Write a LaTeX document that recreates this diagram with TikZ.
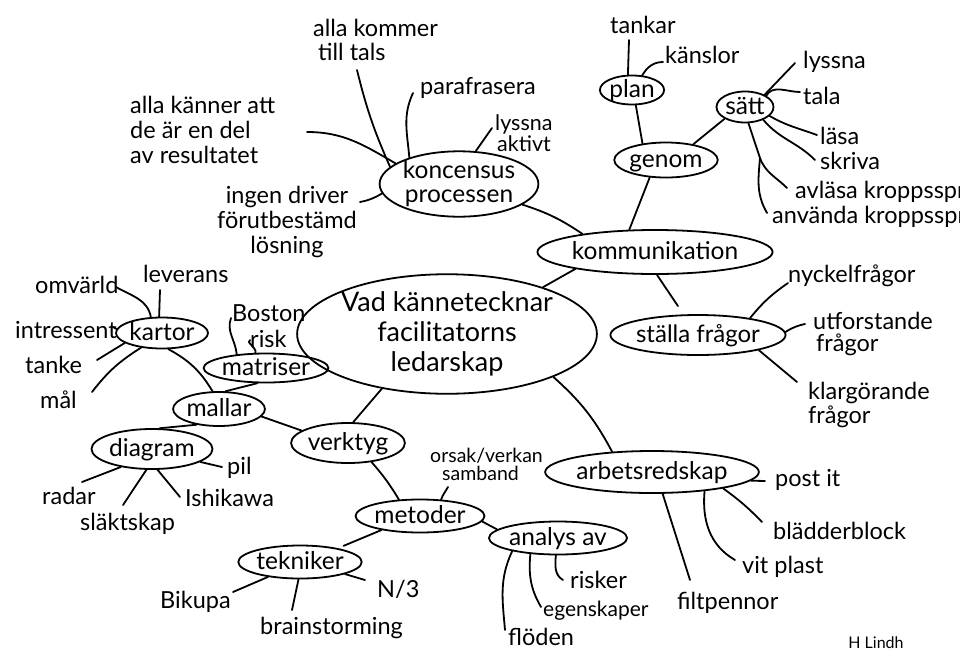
\documentclass[tikz,border=0pt]{standalone}
\usepackage{fontspec}
\setmainfont{Lato}
\usetikzlibrary{shapes.geometric}
\begin{document}
\begin{tikzpicture}[x=1pt,y=1pt,
  bub/.style={ellipse,draw,line width=1.8pt,inner sep=0pt,font=\fontsize{24.5}{26}\selectfont,align=center},
  one/.style={bub,text height=17pt,text depth=3pt},
  lf/.style={inner sep=0pt,anchor=west,font=\fontsize{23.5}{25}\selectfont,align=left},
  ln/.style={line width=1.8pt,line cap=round}]
\useasboundingbox (0,0) rectangle (960,-651);
\fill[white] (0,0) rectangle (960,-651);
% ellipses
\node[bub,minimum width=249pt,minimum height=108pt,font=\fontsize{27}{30}\selectfont] (main) at (447,-334) {Vad kännetecknar\\facilitatorns\\ledarskap};
\node[bub,minimum width=148pt,minimum height=62pt,font=\fontsize{24.5}{24}\selectfont] (kons) at (459,-184) {koncensus\\processen};
\node[one,minimum width=190pt,minimum height=44pt] (komm) at (655,-252) {kommunikation};
\node[one,minimum width=95pt,minimum height=35pt] (genom) at (666,-160) {genom};
\node[one,minimum width=62pt,minimum height=29pt] (plan) at (632,-90) {plan};
\node[one,minimum width=57pt,minimum height=31pt] (satt) at (745,-107) {sätt};
\node[one,minimum width=143pt,minimum height=40pt,font=\fontsize{24}{26}\selectfont] (stal) at (698,-335) {ställa frågor};
\node[one,minimum width=170pt,minimum height=42pt] (arb) at (652,-472) {arbetsredskap};
\node[one,minimum width=127pt,minimum height=33pt] (anal) at (558,-538) {analys av};
\node[one,minimum width=110pt,minimum height=33pt] (metod) at (420,-516) {metoder};
\node[one,minimum width=120pt,minimum height=33pt] (tekn) at (300,-562) {tekniker};
\node[one,minimum width=97pt,minimum height=40pt] (verk) at (348,-443) {verktyg};
\node[one,minimum width=88pt,minimum height=34pt] (mallar) at (219,-409) {mallar};
\node[one,minimum width=103pt,minimum height=40pt] (diag) at (152,-449) {diagram};
\node[one,minimum width=84pt,minimum height=31pt] (kart) at (162,-333) {kartor};
\node[one,minimum width=104pt,minimum height=29pt] (matr) at (266,-368) {matriser};
% leaf texts
\node[lf,font=\fontsize{23.5}{24}\selectfont] (kom1) at (313,-40) {alla kommer\\\hspace*{5pt}till tals};
\node[lf] (kanner) at (130,-130) {alla känner att\\de är en del\\av resultatet};
\node[lf] (para) at (420,-88) {parafrasera};
\node[lf,font=\fontsize{21.5}{16}\selectfont] (lyssa) at (495,-133) {lyssna\\\hspace*{2pt}aktivt};
\node[lf,anchor=center,align=center] (ingen) at (287,-222) {ingen driver\\förutbestämd\\lösning};
\node[lf] (tankar) at (610,-25) {tankar};
\node[lf] (kanslor) at (665,-55) {känslor};
\node[lf] (lyssna) at (803,-62) {lyssna};
\node[lf] (tala) at (803,-96) {tala};
\node[lf] (lasa) at (820,-136) {läsa};
\node[lf] (skriva) at (820,-161) {skriva};
\node[lf] (avlasa) at (795,-192) {avläsa kroppsspråk};
\node[lf] (anvanda) at (772,-217) {använda kroppsspråk};
\node[lf] (nyckel) at (788,-276) {nyckelfrågor};
\node[lf,font=\fontsize{23.5}{22}\selectfont] (utf) at (813,-334) {utforstande\\\hspace*{3pt}frågor};
\node[lf,font=\fontsize{23.5}{24}\selectfont] (klar) at (808,-405) {klargörande\\frågor};
\node[lf] (postit) at (775,-480) {post it};
\node[lf] (bladd) at (773,-531) {blädderblock};
\node[lf] (vit) at (742,-567) {vit plast};
\node[lf] (filt) at (677,-603) {filtpennor};
\node[lf] (risker) at (570,-580) {risker};
\node[lf,font=\fontsize{21}{22}\selectfont] (egen) at (543,-611) {egenskaper};
\node[lf] (floden) at (508,-637) {flöden};
\node[lf,font=\fontsize{19.5}{18}\selectfont] (orsak) at (430,-464) {orsak/verkan\\\hspace*{12pt}samband};
\node[lf] (omv) at (35,-285) {omvärld};
\node[lf] (lev) at (143,-274) {leverans};
\node[lf] (intr) at (15,-330) {intressent};
\node[lf] (tanke) at (25,-365) {tanke};
\node[lf] (mal) at (40,-400) {mål};
\node[lf] (boston) at (232,-313) {Boston};
\node[lf] (risk) at (250,-339) {risk};
\node[lf] (pil) at (227,-468) {pil};
\node[lf] (radar) at (42,-496) {radar};
\node[lf] (slakt) at (80,-524) {släktskap};
\node[lf] (ishi) at (185,-498) {Ishikawa};
\node[lf] (bikupa) at (160,-602) {Bikupa};
\node[lf] (brain) at (260,-628) {brainstorming};
\node[lf] (n3) at (377,-589) {N/3};
\node[lf,anchor=center,font=\fontsize{16}{16}\selectfont] (lindh) at (876,-643) {H Lindh};
% free ends
\coordinate (kom1E) at (357,-70);
\coordinate (kannerE) at (307,-132);
\coordinate (paraE) at (413,-93);
\coordinate (lyssaE) at (492,-128);
\coordinate (ingenE) at (360,-202);
\coordinate (tankarE) at (629,-40);
\coordinate (kanslorE) at (663,-62);
\coordinate (lyssnaE) at (795,-63);
\coordinate (talaE) at (800,-92);
\coordinate (lasaE) at (817,-135);
\coordinate (skrivaE) at (815,-160);
\coordinate (branch) at (760,-158);
\coordinate (avlasaE) at (787,-188);
\coordinate (anvandaE) at (767,-213);
\coordinate (nyckelE) at (788,-283);
\coordinate (utfE) at (805,-324);
\coordinate (klarE) at (797,-382);
\coordinate (postitE) at (765,-481);
\coordinate (bladdE) at (762,-522);
\coordinate (vitE) at (735,-560);
\coordinate (filtE) at (690,-580);
\coordinate (riskerE) at (563,-580);
\coordinate (egenE) at (541,-607);
\coordinate (flodenE) at (505,-630);
\coordinate (orsakE) at (448,-487);
\coordinate (omvE) at (116,-287);
\coordinate (levE) at (160,-290);
\coordinate (intrE) at (113,-327);
\coordinate (tankeE) at (97,-360);
\coordinate (malE) at (92,-392);
\coordinate (bostonE) at (231,-318);
\coordinate (riskE) at (250,-340);
\coordinate (pilE) at (222,-467);
\coordinate (radarE) at (82,-482);
\coordinate (slaktE) at (123,-505);
\coordinate (ishiE) at (180,-497);
\coordinate (bikupaE) at (233,-592);
\coordinate (brainE) at (292,-610);
\coordinate (n3E) at (365,-580);
% connectors
\draw[ln] (kons.166) to[bend left=5] (kom1E);
\draw[ln] (kons.162) to[out=150,in=0] (kannerE);
\draw[ln] (kons.152) to[out=95,in=-115] (paraE);
\draw[ln] (kons.63) -- (lyssaE);
\draw[ln] (kons.187) to[bend left=10] (ingenE);
\draw[ln] (kons.-18) to[bend left=8] (komm.166);
\draw[ln] (komm.139) -- (genom.-133);
\draw[ln] (genom.145) -- (plan.-76);
\draw[ln] (genom.30) -- (satt.210);
\draw[ln] (plan.105) -- (tankarE);
\draw[ln] (plan.55) to[out=60,in=180] (kanslorE);
\draw[ln] (satt.32) -- (lyssnaE);
\draw[ln] (satt.28) to[out=60,in=180] (talaE);
\draw[ln] (satt.-20) to[out=-30,in=160] (lasaE);
\draw[ln] (satt.-35) to[out=-50,in=135] (skrivaE);
\draw[ln] (satt.-78) -- (branch) to[out=-70,in=135] (avlasaE);
\draw[ln] (branch) to[out=-95,in=120] (anvandaE);
\draw[ln,shorten >=10pt] (komm.-85) -- (stal.125);
\draw[ln] (stal.18) to[bend left=8] (nyckelE);
\draw[ln] (stal.2) to[bend left=10] (utfE);
\draw[ln] (stal.-14) -- (klarE);
\draw[ln] (main.26) -- (komm.192);
\draw[ln] (main.-140) -- (verk.76);
\draw[ln] (main.-22) to[bend left=10] (arb.153);
\draw[ln] (arb.-5) -- (postitE);
\draw[ln] (arb.-13) to[bend left=5] (bladdE);
\draw[ln] (arb.-20) to[out=-95,in=150] (vitE);
\draw[ln] (arb.-64) -- (filtE);
\draw[ln] (verk.165) -- (mallar.-10);
\draw[ln] (verk.-39) to[bend left=5] (metod.142);
\draw[ln] (metod.38) to[out=70,in=-120] (orsakE);
\draw[ln,shorten >=6pt] (metod.200) -- (tekn.20);
\draw[ln] (metod.-5) -- (anal.172);
\draw[ln] (anal.-97) to[out=-95,in=150] (riskerE);
\draw[ln] (anal.-150) to[out=-95,in=120] (egenE);
\draw[ln] (anal.-164) to[out=-115,in=95] (flodenE);
\draw[ln] (tekn.205) -- (bikupaE);
\draw[ln] (tekn.-95) -- (brainE);
\draw[ln] (tekn.-15) -- (n3E);
\draw[ln] (mallar.110) to[bend right=15] (kart.-68);
\draw[ln] (mallar.70) -- (matr.-120);
\draw[ln] (mallar.215) -- (diag.70);
\draw[ln] (kart.125) to[out=100,in=-30] (omvE);
\draw[ln] (kart.100) -- (levE);
\draw[ln] (kart.175) -- (intrE);
\draw[ln] (kart.195) -- (tankeE);
\draw[ln] (kart.215) to[bend right=10] (malE);
\draw[ln] (matr.155) to[out=95,in=-110] (bostonE);
\draw[ln] (matr.125) to[out=70,in=200] (riskE);
\draw[ln] (diag.-15) -- (pilE);
\draw[ln] (diag.210) -- (radarE);
\draw[ln] (diag.-105) -- (slaktE);
\draw[ln] (diag.-75) -- (ishiE);
\end{tikzpicture}
\end{document}
